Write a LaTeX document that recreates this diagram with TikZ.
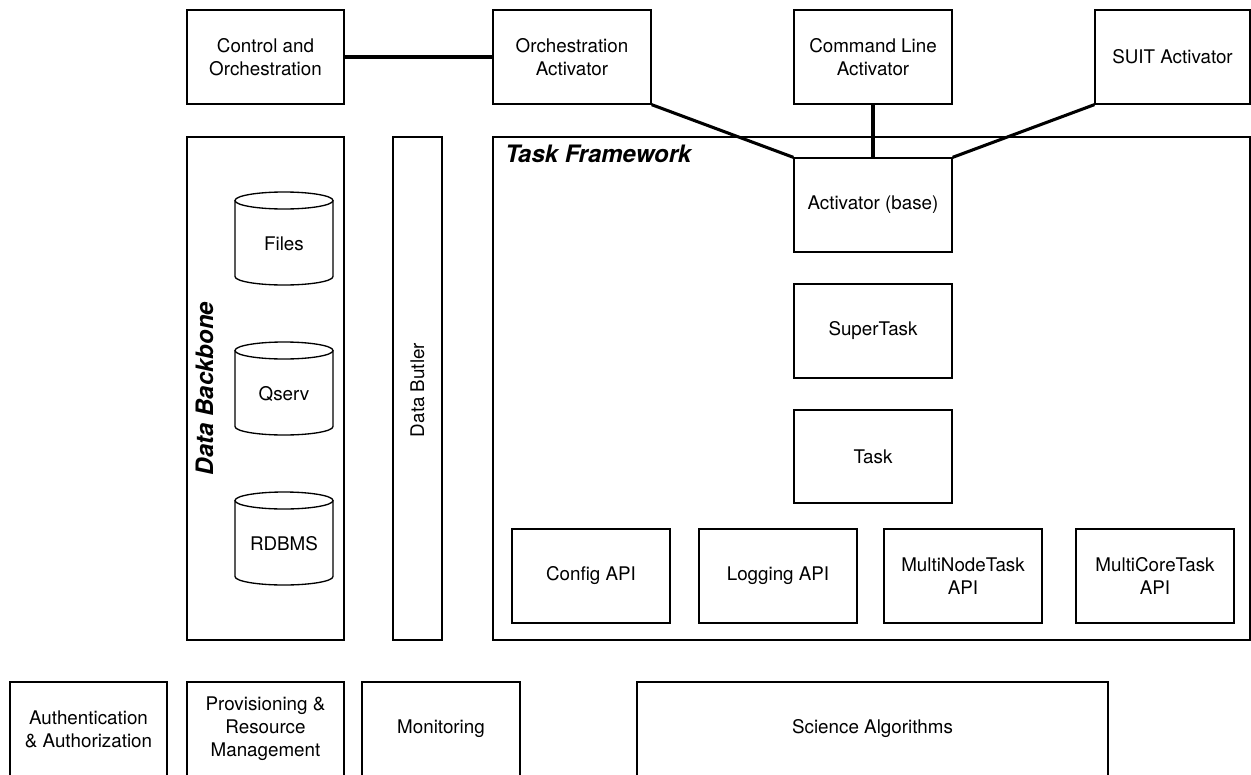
\documentclass[tikz,border=0pt]{standalone}
\usepackage{fontspec}
\setmainfont{TeX Gyre Heros}
\newcommand\labfont{\fontsize{14.1}{17.25}\selectfont}
\newcommand\titlefont{\fontsize{18}{21}\selectfont\bfseries\itshape}
\begin{document}
\begin{tikzpicture}[x=0.75pt,y=-0.75pt,
  box/.style={draw, line width=1pt, align=center, inner sep=0pt, font=\labfont},
  sz/.style 2 args={minimum width=#1*0.75pt, minimum height=#2*0.75pt},
  conn/.style={line width=2.3pt},
  cyl/.style={line width=1pt}]
\useasboundingbox (0,0) rectangle (1251,774);
\clip (0,0) rectangle (1251,774);
% top row
\node[box, sz={157}{94}] (ctrl) at (265.5,57) {Control and\\Orchestration};
\node[box, sz={158}{94}] (orch) at (572,57) {Orchestration\\Activator};
\node[box, sz={158}{94}] (cmd) at (873,57) {Command Line\\Activator};
\node[box, sz={155}{94}] (suit) at (1172.5,57) {SUIT Activator};
% middle containers
\node[box, sz={157}{503}] (backbone) at (265.5,388.5) {};
\node[font=\titlefont, rotate=90, anchor=base, inner sep=0pt] (backbonelab) at (213,388.5) {Data Backbone};
\node[box, sz={49}{503}] (butler) at (417.5,388.5) {};
\node[font=\labfont, rotate=90, inner sep=0pt] (butlerlab) at (417.5,390) {Data Butler};
\node[box, sz={757}{503}] (frame) at (871.5,388.5) {};
\node[font=\titlefont, anchor=base west, inner sep=0pt] (framelab) at (505,162) {Task Framework};
% task framework content
\node[box, sz={158}{94}, fill=white] (actbase) at (873,205) {Activator (base)};
\node[box, sz={158}{94}] (super) at (873,331) {SuperTask};
\node[box, sz={158}{93}] (task) at (873,456.5) {Task};
\node[box, sz={158}{94}] (config) at (591,576) {Config API};
\node[box, sz={158}{94}] (logging) at (778,576) {Logging API};
\node[box, sz={158}{94}] (mnode) at (963,576) {MultiNodeTask\\API};
\node[box, sz={158}{94}] (mcore) at (1155,576) {MultiCoreTask\\API};
% cylinders
\foreach \nm/\txt/\top/\bot in {files/Files/192/285, qserv/Qserv/342/435, rdbms/RDBMS/492/585}{
  \draw[cyl] (235,\top+8.5) -- (235,\bot-8.5) arc[start angle=180, end angle=360, x radius=49, y radius=-8.5] -- (333,\top+8.5);
  \draw[cyl] (284,\top+8.5) ellipse [x radius=49, y radius=8.5];
  \node[font=\labfont, inner sep=0pt] (\nm) at (284,{(\top+\bot)/2+5}) {\txt};
}
% bottom row
\node[box, sz={157}{94}] (auth) at (88.5,729) {Authentication\\\&{} Authorization};
\node[box, sz={157}{94}] (prov) at (265.5,729) {Provisioning \&\\Resource\\Management};
\node[box, sz={158}{94}] (mon) at (441,729) {Monitoring};
\node[box, sz={471}{94}] (sci) at (872.5,729) {Science Algorithms};
% connectors
\draw[conn] (ctrl.east) -- (orch.west);
\draw[conn] (orch.south east) -- (actbase.north west);
\draw[conn] (cmd.south) -- (actbase.north);
\draw[conn] (suit.south west) -- (actbase.north east);
\end{tikzpicture}
\end{document}
